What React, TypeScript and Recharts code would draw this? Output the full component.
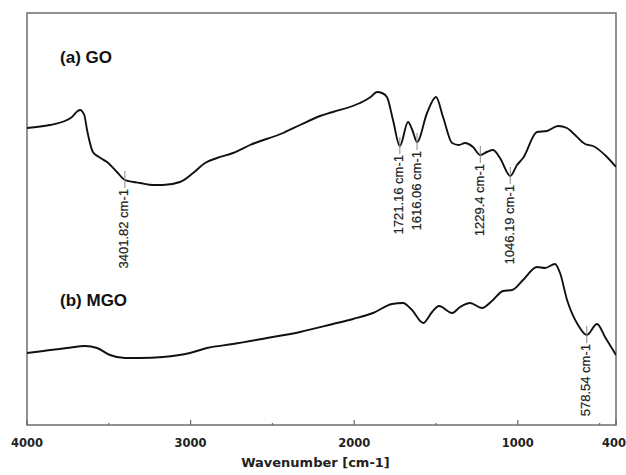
import { LineChart, Line, XAxis, YAxis, ReferenceArea, ReferenceDot } from "recharts";

document.body.style.margin = "0";

// FTIR spectra, wavenumber (cm-1) vs. transmittance (arbitrary units, offset)
const GO_WAVENUMBER = [
  4000, 3860, 3756, 3725, 3690, 3676, 3650, 3633, 3597, 3560, 3511, 3450, 3401.82,
  3350, 3309, 3230, 3169, 3065, 2985, 2912, 2839, 2741, 2637, 2435, 2331, 2209,
  2130, 1965, 1900, 1861, 1830, 1800, 1763, 1721.16, 1671, 1645, 1616.06, 1555,
  1500, 1457, 1402, 1360, 1323, 1274, 1229.4, 1190, 1152, 1109, 1046.19, 1005,
  968, 883, 822, 754, 700, 663, 589, 540, 455, 400,
];
const GO_SIGNAL = [
  297, 300, 305, 308, 314, 315, 310, 295, 273, 268, 263, 253, 245,
  243, 242, 240, 240, 243, 252, 262, 267, 272, 280, 292, 300, 309,
  313, 322, 328, 333, 332, 328, 305, 279, 303, 295, 283, 312,
  328, 308, 282, 280, 282, 278, 270, 273, 275, 267, 249, 260,
  267, 293, 294, 299, 297, 292, 281, 279, 268, 258,
];

const MGO_WAVENUMBER = [
  4000, 3756, 3645, 3572, 3493, 3401, 3309, 3169, 3004, 2900, 2741, 2533, 2331,
  2130, 2007, 1885, 1769, 1702, 1647, 1579, 1524, 1482, 1402, 1353, 1292, 1219,
  1158, 1090, 1035, 968, 883, 834, 773, 742, 699, 632, 578.54, 516, 467, 400,
];
const MGO_SIGNAL = [
  72, 77, 79, 77, 70, 67, 67, 68, 72, 77, 81, 87, 93,
  101, 106, 112, 121, 122, 115, 102, 113, 119, 112, 118, 122, 117,
  124, 134, 135, 145, 158, 157, 161, 152, 125, 100, 90, 101, 88, 70,
];

const GO_PEAKS = [3401.82, 1721.16, 1616.06, 1229.4, 1046.19];
const MGO_PEAKS = [578.54];

const TICK_LABELS = [4000, 3000, 2000, 1000, 400];
const MINOR_TICKS = [3500, 2500, 1500, 500];

const goData = GO_WAVENUMBER.map((w, i) => ({ w, t: GO_SIGNAL[i] }));
const mgoData = MGO_WAVENUMBER.map((w, i) => ({ w, t: MGO_SIGNAL[i] }));

const valueAt = (data: { w: number; t: number }[], w: number) =>
  data.find((d) => d.w === w)?.t ?? 0;

function AxisTick({ x, y, payload }: any) {
  const major = TICK_LABELS.includes(payload.value);
  // last label sits at the right edge, so keep it inside the canvas
  const last = payload.value === 400;
  return (
    <g>
      <line x1={x} x2={x} y1={y} y2={y - (major ? 5 : 2)} stroke="#666" strokeWidth={1.2} />
      {major && (
        <text
          x={last ? x + 10 : x}
          y={y + 22}
          textAnchor={last ? "end" : "middle"}
          fontFamily="DejaVu Sans"
          fontWeight="bold"
          fontSize={11.5}
          fill="#222"
        >
          {payload.value}
        </text>
      )}
    </g>
  );
}

function PeakMark({ cx, cy, text }: any) {
  const top = cy + 9;
  return (
    <g>
      <line x1={cx} x2={cx} y1={cy - 9} y2={cy + 8} stroke="#888" strokeWidth={1} />
      <text
        x={cx - 1}
        y={top}
        transform={`rotate(-90 ${cx - 1} ${top})`}
        textAnchor="end"
        dominantBaseline="central"
        fontFamily="Liberation Sans"
        fontSize={13}
        fill="#222"
        stroke="#222"
        strokeWidth={0.2}
      >
        {text}
      </text>
    </g>
  );
}

function SeriesName({ cx, cy, text }: any) {
  return (
    <text x={cx} y={cy} fontFamily="Liberation Sans" fontWeight="bold" fontSize={17} fill="#111">
      {text}
    </text>
  );
}

export default function App() {
  return (
    <LineChart width={626} height={475} margin={{ top: 13, right: 10, left: 27, bottom: 0 }}>
      <XAxis
        type="number"
        dataKey="w"
        domain={[400, 4000]}
        reversed
        ticks={[4000, MINOR_TICKS[0], 3000, MINOR_TICKS[1], 2000, MINOR_TICKS[2], 1000, MINOR_TICKS[3], 400]}
        interval={0}
        allowDataOverflow
        height={50}
        tickSize={0}
        tickMargin={0}
        tickLine={false}
        axisLine={false}
        tick={<AxisTick />}
        label={{
          content: (props: any) => {
            const vb = props.viewBox;
            return (
              <text
                x={vb.x + vb.width / 2 - 6}
                y={vb.y + 42}
                textAnchor="middle"
                fontFamily="DejaVu Sans"
                fontWeight="bold"
                fontSize={13}
                fill="#222"
              >
                Wavenumber [cm-1]
              </text>
            );
          },
        }}
      />
      <YAxis type="number" domain={[0, 412]} hide allowDataOverflow />
      <ReferenceArea
        x1={4000}
        x2={400}
        y1={0}
        y2={412}
        fill="none"
        stroke="#6e6e6e"
        strokeWidth={1.5}
      />
      <Line
        data={goData}
        dataKey="t"
        type="monotone"
        stroke="#111"
        strokeWidth={1.9}
        dot={false}
        isAnimationActive={false}
      />
      <Line
        data={mgoData}
        dataKey="t"
        type="monotone"
        stroke="#111"
        strokeWidth={1.9}
        dot={false}
        isAnimationActive={false}
      />
      {GO_PEAKS.map((w) => (
        <ReferenceDot
          key={`go-${w}`}
          x={w}
          y={valueAt(goData, w)}
          shape={(p: any) => <PeakMark cx={p.cx} cy={p.cy} text={`${w} cm-1`} />}
        />
      ))}
      {MGO_PEAKS.map((w) => (
        <ReferenceDot
          key={`mgo-${w}`}
          x={w}
          y={valueAt(mgoData, w)}
          shape={(p: any) => <PeakMark cx={p.cx} cy={p.cy} text={`${w} cm-1`} />}
        />
      ))}
      <ReferenceDot x={3798} y={362} shape={(p: any) => <SeriesName cx={p.cx} cy={p.cy} text="(a) GO" />} />
      <ReferenceDot x={3798} y={119} shape={(p: any) => <SeriesName cx={p.cx} cy={p.cy} text="(b) MGO" />} />
    </LineChart>
  );
}
